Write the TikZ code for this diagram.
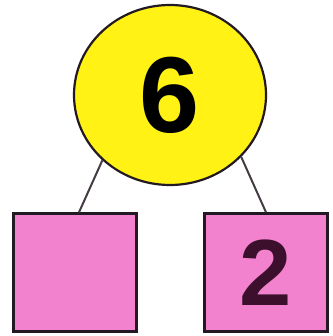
\documentclass[tikz,border=0pt]{standalone}
\usepackage{fontspec}
\setmainfont{Liberation Sans}
\usetikzlibrary{shapes.geometric}
\definecolor{lemon}{RGB}{255,242,20}
\definecolor{rose}{RGB}{242,130,205}
\definecolor{ink}{RGB}{35,25,35}
\definecolor{plum}{RGB}{60,15,45}
\tikzset{
  whole/.style={ellipse,draw=ink,fill=lemon,line width=2.2pt,
    minimum width=192pt,minimum height=180pt,inner sep=0pt,
    font=\fontsize{108}{108}\selectfont\bfseries},
  part/.style={rectangle,draw=ink,fill=rose,line width=2.4pt,
    minimum width=123pt,minimum height=118pt,inner sep=0pt,
    font=\fontsize{94}{94}\selectfont\bfseries,text=plum},
  bond/.style={draw=ink!85,line width=2pt},
}
\begin{document}
\begin{tikzpicture}[x=1pt,y=-1pt]
  \useasboundingbox[fill=white] (0,0) rectangle (332,336);
  % top number and its two parts
  \node[whole] (top) at (170,95) {6};
  \node[part] (left) at (75,272.5) {};
  \node[part] (right) at (266,272.5) {2};
  \draw[bond] (top.224) -- ([xshift=4pt]left.north);
  \draw[bond] (top.319) -- (right.north);
\end{tikzpicture}
\end{document}
